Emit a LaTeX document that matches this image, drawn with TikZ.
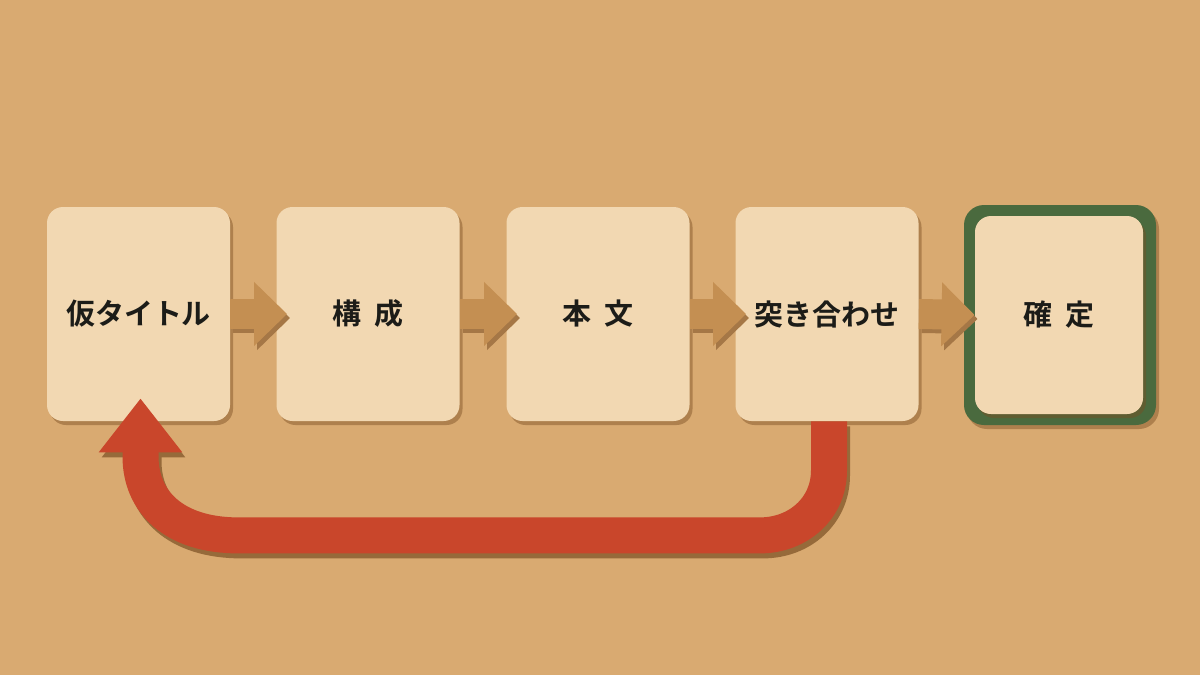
\documentclass[tikz,border=0pt]{standalone}
\usepackage{fontspec}
\newfontfamily\jp{Noto Sans CJK JP Bold}
\usetikzlibrary{arrows.meta,shadows,calc}
\definecolor{bg}{HTML}{D9AA71}
\definecolor{card}{HTML}{F2D8B2}
\definecolor{tan}{HTML}{C48F52}
\definecolor{redarr}{HTML}{C9462B}
\definecolor{frame}{HTML}{4A6A3E}
\definecolor{ink}{HTML}{1C1C18}
\definecolor{shade}{HTML}{7A4E22}
\tikzset{
  x=0.5pt, y=-0.5pt,
  cardbox/.style={fill=card, rounded corners=8pt, minimum width=91.5pt, minimum height=107pt,
    inner sep=0pt, font=\jp\fontsize{14.5pt}{16pt}\selectfont, text=ink,
    drop shadow={shadow xshift=1.5pt, shadow yshift=-2pt, fill=shade, opacity=.45}},
  framebox/.style={fill=frame, rounded corners=10pt, minimum width=96pt, minimum height=110pt,
    drop shadow={shadow xshift=1.5pt, shadow yshift=-2pt, fill=shade, opacity=.45}},
  stepArrow/.style={draw=tan, line width=15pt, -{Triangle[length=16.5pt,width=31pt]},
    shorten >=-5.5pt},
  stepShadow/.style={draw=shade!55!bg, line width=15pt, -{Triangle[length=16.5pt,width=31pt]},
    shorten >=-5.5pt, transform canvas={shift={(1.5pt,-2pt)}}},
  backArrow/.style={draw=redarr, line width=18pt, -{Triangle[length=27pt,width=40pt]},
    shorten >=-11.5pt},
  backShadow/.style={draw=shade!70!bg, line width=18pt, -{Triangle[length=27pt,width=40pt]},
    shorten >=-11.5pt, transform canvas={shift={(1.5pt,-2.5pt)}}},
}
\newcommand\backpath{($(b4.south)+(2,0)$) -- ++(0,49) .. controls +(0,38) and +(38,0) .. ++(-69,65)
  -- ($(b1.south)+(100,114)$) .. controls +(-65,0) and +(0,45) .. ($(b1.south)+(2,35)$) -- ($(b1.south)+(2,0)$)}
\begin{document}
\begin{tikzpicture}
\fill[bg] (0,0) rectangle (1200,675);
\useasboundingbox (0,0) rectangle (1200,675);
\node[cardbox] (b1) at (138.5,314) {仮タイトル};
\node[cardbox] (b2) at (368,314) {構\hspace{7pt}成};
\node[cardbox] (b3) at (598,314) {本\hspace{7pt}文};
\node[cardbox] (b4) at (827,314) {突き合わせ};
\node[framebox] (f5) at (1060,315) {};
\node[cardbox, minimum width=84pt, minimum height=99pt] (b5) at (1059,315) {確\hspace{7pt}定};
% step arrows with shadows
\draw[stepShadow] (b1.east) -- (b2.west);
\draw[stepShadow] (b2.east) -- (b3.west);
\draw[stepShadow] (b3.east) -- (b4.west);
\draw[stepShadow, shorten >=0pt] (b4.east) -- (b5.west);
\draw[stepArrow] (b1.east) -- (b2.west);
\draw[stepArrow] (b2.east) -- (b3.west);
\draw[stepArrow] (b3.east) -- (b4.west);
\draw[stepArrow, shorten >=0pt] (b4.east) -- (b5.west);
% back arrow (shadow then arrow)
\draw[backShadow] \backpath;
\draw[backArrow] \backpath;
\end{tikzpicture}
\end{document}
